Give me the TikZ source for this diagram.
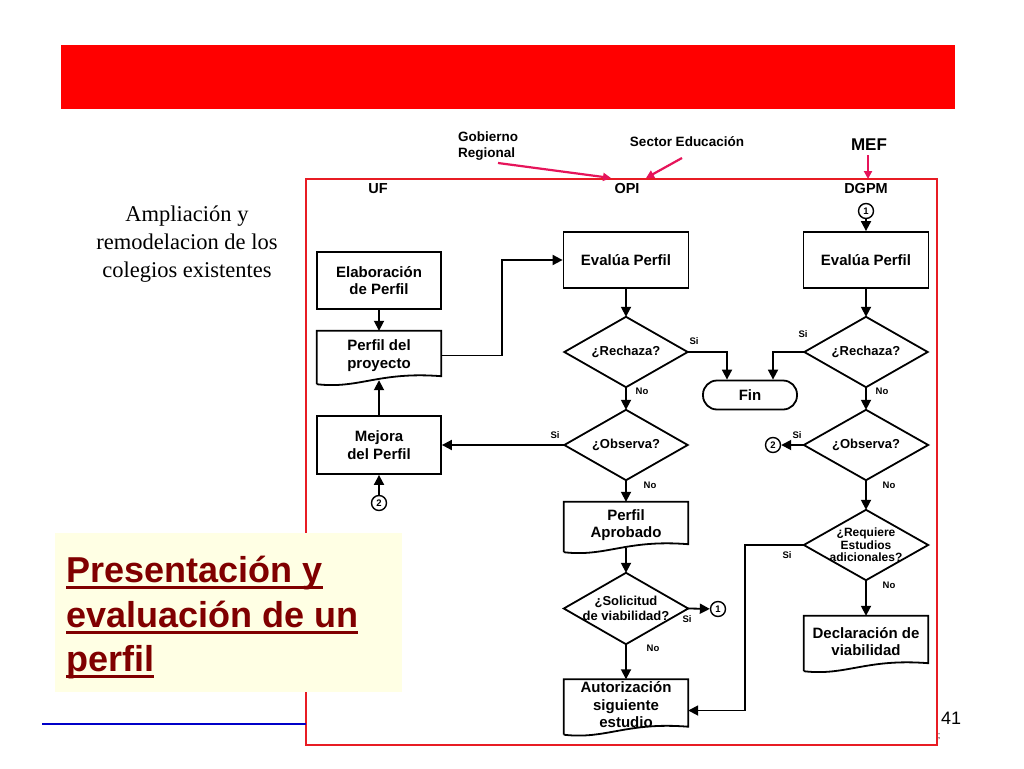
\documentclass[tikz,border=0pt]{standalone}
\usepackage{fontspec}
\setmainfont{Liberation Sans}
\newfontfamily\serifff{Liberation Serif}
\usetikzlibrary{arrows.meta,calc}
\definecolor{bandred}{RGB}{255,0,0}
\definecolor{framered}{RGB}{232,28,36}
\definecolor{pinkarr}{RGB}{230,20,90}
\definecolor{titlered}{RGB}{128,0,0}
\definecolor{cream}{RGB}{255,255,228}
\definecolor{lineblue}{RGB}{0,0,200}
\newcommand\docb[1]{\draw[ln] ($(#1.south west)+(0,4)$) -- (#1.north west) -- (#1.north east) -- ($(#1.south east)+(0,-4)$) .. controls ($(#1.south)+(0,-9)$) and ($(#1.south)+(-20,9)$) .. ($(#1.south west)+(0,4)$);}
\newcommand\diab[1]{\draw[ln] (#1.north) -- (#1.east) -- (#1.south) -- (#1.west) -- cycle;}
\begin{document}
\begin{tikzpicture}[x=1pt,y=-1pt,
 ln/.style={line width=1.8pt,black},
 arr/.style={ln,-{Triangle[length=10pt,width=10pt]}},
 parr/.style={pinkarr,line width=2.2pt,-{Triangle[length=8pt,width=8pt]}},
 boxtxt/.style={font=\bfseries\fontsize{15}{17.5}\selectfont,align=center,inner sep=0},
 box/.style={boxtxt,draw,ln,minimum width=124pt,minimum height=57pt},
 doc/.style={boxtxt,minimum width=124pt},
 dia/.style={font=\bfseries\fontsize{13}{15.5}\selectfont,align=center,inner sep=0,minimum width=123pt,minimum height=70pt},
 yn/.style={font=\bfseries\fontsize{9.5}{10}\selectfont,inner sep=0},
 hdr/.style={font=\bfseries\fontsize{14.5}{16}\selectfont,inner sep=0},
 conn/.style={circle,draw,line width=1.4pt,minimum size=15pt,inner sep=0,font=\bfseries\fontsize{9.5}{9.5}\selectfont},
 ttl/.style={font=\bfseries\fontsize{36}{44}\selectfont,text=titlered,inner sep=0,anchor=base west},
 uline/.style={titlered,line width=3pt},
]
\useasboundingbox (0,0) rectangle (1024,768);
\fill[white] (0,0) rectangle (1024,768);
% top band
\fill[bandred] (61,45) rectangle (955,109);
% frame
\draw[framered,line width=1.8pt] (306,179) rectangle (937,745);
% side text
\node[font=\serifff\fontsize{22.5}{28}\selectfont,align=center,inner sep=0] (amp) at (187,244) {Ampliación y\\remodelacion de los\\colegios existentes};
% title box
\fill[cream] (55,533) rectangle (402,692);
\node[ttl] (t1) at (66,582) {Presentación y};
\node[ttl] (t2) at (66,627) {evaluación de un};
\node[ttl] (t3) at (66,671) {perfil};
\foreach \t in {t1,t2,t3}{\draw[uline] ([yshift=-5pt]\t.base west) -- ([yshift=-5pt]\t.base east);}
\draw[lineblue,line width=2.5pt] (42,724) -- (306,724);
\node[font=\fontsize{18}{18}\selectfont,inner sep=0,anchor=base west] (pg) at (941,724) {41};
\node[font=\fontsize{9}{9}\selectfont,inner sep=0] (frag) at (939,737) {;};

% headers
\node[hdr] (uf) at (378,189) {UF};
\node[hdr] (opi) at (627,189) {OPI};
\node[hdr] (dgpm) at (866,189) {DGPM};
\node[font=\bfseries\fontsize{13.5}{15.5}\selectfont,align=left,inner sep=0,anchor=west] (gob) at (458,146) {Gobierno\\Regional};
\node[font=\bfseries\fontsize{13.5}{15}\selectfont,inner sep=0] (sec) at (687,142) {Sector Educación};
\node[font=\bfseries\fontsize{17}{17}\selectfont,inner sep=0] (mef) at (869,145) {MEF};
\coordinate (ga) at (498,163); \coordinate (gb) at (611,178);
\coordinate (sa) at (682,158); \coordinate (sb) at (646,178);
\coordinate (ma) at (868,155); \coordinate (mb) at (868,179);
\draw[parr] (ga) -- (gb);
\draw[parr] (sa) -- (sb);
\draw[parr] (ma) -- (mb);

% nodes UF
\node[box] (elab) at (379,280.5) {Elaboración\\de Perfil};
\node[doc,minimum height=49pt] (perfil) at (379,355.5) {Perfil del\\proyecto};
\docb{perfil}
\node[box,minimum height=58pt] (mej) at (379,445) {Mejora\\del Perfil};
\node[conn] (c2) at (379,503) {2};
% OPI
\node[box,minimum width=125pt,minimum height=56pt] (ev1) at (626,260) {Evalúa Perfil};
\node[dia] (r1) at (626,352) {¿Rechaza?}; \diab{r1}
\node[dia] (o1) at (626,445) {¿Observa?}; \diab{o1}
\node[doc,minimum height=46pt] (apr) at (626,525) {Perfil\\Aprobado}; \docb{apr}
\node[dia,minimum width=124pt,minimum height=71pt] (sol) at (626,608.5) {¿Solicitud\\de viabilidad?}; \diab{sol}
\node[conn] (c1b) at (718,609) {1};
\node[doc,minimum width=124pt,minimum height=51pt] (aut) at (626,705) {Autorización\\siguiente\\estudio}; \docb{aut}
\node[draw,ln,rounded corners=14pt,minimum width=94pt,minimum height=29pt,boxtxt] (fin) at (750,395) {Fin};
% DGPM
\node[conn] (c1) at (866,211) {1};
\node[box,minimum width=125pt,minimum height=56pt] (ev2) at (866,260) {Evalúa Perfil};
\node[dia] (r2) at (866,352) {¿Rechaza?}; \diab{r2}
\node[dia,minimum width=124pt] (o2) at (866,445) {¿Observa?}; \diab{o2}
\node[conn] (c2b) at (773,445) {2};
\node[dia,minimum width=124pt,font=\bfseries\fontsize{12}{12.5}\selectfont] (req) at (866,545) {¿Requiere\\Estudios\\adicionales?}; \diab{req}
\node[doc,minimum width=124pt,minimum height=51pt] (decl) at (866,641.5) {Declaración de\\viabilidad}; \docb{decl}

% connectors
\draw[arr] (elab) -- (perfil);
\draw[arr] (perfil.east) -- ++(61,0) |- (ev1.west);
\draw[arr] (ev1) -- (r1.north);
\draw[arr] (r1.east) -| ([xshift=-23pt]fin.north);
\draw[arr] (r2.west) -| ([xshift=23pt]fin.north);
\draw[arr] (c1) -- (ev2);
\draw[arr] (ev2) -- (r2.north);
\draw[arr] (r1.south) -- (o1.north);
\draw[arr] (o1.west) -- (mej.east);
\draw[arr] (mej.north) -- (perfil.south);
\draw[arr] (c2) -- (mej.south);
\draw[arr] (o1.south) -- (apr.north);
\draw[arr] (apr.south) -- (sol.north);
\draw[arr] (sol.east) -- (c1b);
\draw[arr] (sol.south) -- (aut.north);
\draw[arr] (r2.south) -- (o2.north);
\draw[arr] (o2.west) -- (c2b);
\draw[arr] (o2.south) -- (req.north);
\draw[arr] (req.west) -- ++(-59,0) |- ([yshift=-5.5pt]aut.east);
\draw[arr] (req.south) -- (decl.north);

% labels
\node[yn] (l1) at (694,341) {Si};
\node[yn] (l2) at (803,334) {Si};
\node[yn] (l3) at (642,391) {No};
\node[yn] (l4) at (882,391) {No};
\node[yn] (l5) at (555,435) {Si};
\node[yn] (l6) at (650,485) {No};
\node[yn] (l7) at (797,435) {Si};
\node[yn] (l8) at (889,485) {No};
\node[yn] (l9) at (787,555) {Si};
\node[yn] (l10) at (889,585) {No};
\node[yn] (l11) at (687,619) {Si};
\node[yn] (l12) at (653,648) {No};
\end{tikzpicture}
\end{document}
